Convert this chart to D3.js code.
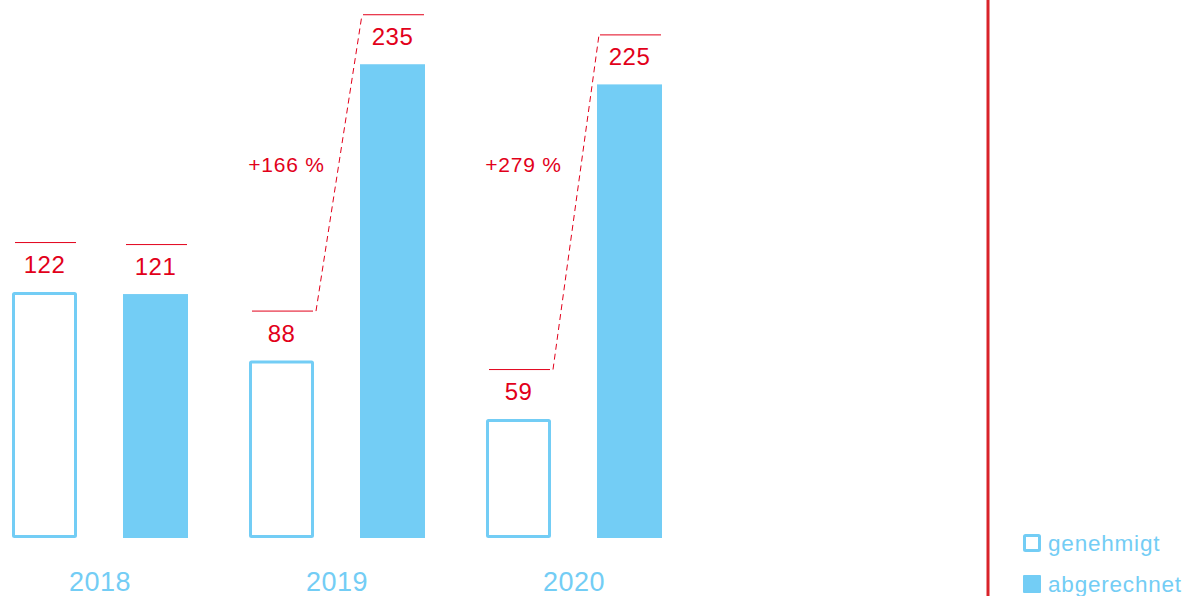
<!DOCTYPE html>
<html>
<head>
<meta charset="utf-8">
<script src="https://cdn.jsdelivr.net/npm/d3@7"></script>
<style>
  body{margin:0;background:#fff;}
  svg{display:block;font-family:"Liberation Sans",Arial,sans-serif;}
</style>
</head>
<body>
<svg id="chart" width="1189" height="596"></svg>
<script>
// daten
var years=["2018","2019","2020"];
var series=["genehmigt","abgerechnet"];
var genehmigt=[122,88,59];
var abgerechnet=[121,235,225];
var changeLabels=[null,"+166 %","+279 %"];

var blue="#73cdf5";
var red="#e2001a";

var svg=d3.select("#chart");

var x0=d3.scaleBand().domain(years).range([12,662]).paddingInner(61/237).paddingOuter(0);
var x1=d3.scaleBand().domain(series).range([0,x0.bandwidth()]).paddingInner(46/111).paddingOuter(0);
var y=d3.scaleLinear().domain([0,250]).range([538,34]);

var rows=years.map(function(yr,i){
    return {year:yr,vals:[{s:"genehmigt",v:genehmigt[i]},{s:"abgerechnet",v:abgerechnet[i]}],change:changeLabels[i]};
});

var g=svg.selectAll("g.year").data(rows).enter().append("g")
    .attr("class","year")
    .attr("transform",function(d){return "translate("+x0(d.year)+",0)";});

// balken
g.selectAll("rect").data(function(d){return d.vals;}).enter().append("rect")
    .attr("x",function(d){return d.s==="genehmigt"?x1(d.s)+1.5:x1(d.s);})
    .attr("y",function(d){return d.s==="genehmigt"?y(d.v)+1.5:y(d.v);})
    .attr("width",function(d){return d.s==="genehmigt"?x1.bandwidth()-3:x1.bandwidth();})
    .attr("height",function(d){return d.s==="genehmigt"?y(0)-y(d.v)-3:y(0)-y(d.v);})
    .attr("fill",function(d){return d.s==="genehmigt"?"#fff":blue;})
    .attr("stroke",function(d){return d.s==="genehmigt"?blue:"none";})
    .attr("stroke-width",3)
    .attr("rx",function(d){return d.s==="genehmigt"?1:0;});

// linien ueber den balken
g.selectAll("line.lab").data(function(d){return d.vals;}).enter().append("line")
    .attr("class","lab")
    .attr("x1",function(d){return x1(d.s)+3;})
    .attr("x2",function(d){return x1(d.s)+x1.bandwidth()-1;})
    .attr("y1",function(d){return y(d.v)-49.5;})
    .attr("y2",function(d){return y(d.v)-49.5;})
    .attr("stroke",red).attr("stroke-width",1);

// werte
g.selectAll("text.val").data(function(d){return d.vals;}).enter().append("text")
    .attr("class","val")
    .attr("x",function(d){return x1(d.s)+x1.bandwidth()/2;})
    .attr("y",function(d){return y(d.v)-19;})
    .attr("text-anchor","middle")
    .attr("font-size",24)
    .attr("letter-spacing",0.5)
    .attr("fill",red)
    .text(function(d){return d.v;});

// gestrichelte verbindung + prozent
var ch=g.filter(function(d){return d.change;});
ch.append("line")
    .attr("x1",function(d){return x1("genehmigt")+x1.bandwidth()+2;})
    .attr("y1",function(d){return y(d.vals[0].v)-49.5;})
    .attr("x2",function(d){return x1("abgerechnet")+2;})
    .attr("y2",function(d){return y(d.vals[1].v)-49.5;})
    .attr("stroke",red).attr("stroke-width",1)
    .attr("stroke-dasharray","6,4");
ch.append("text")
    .attr("x",function(d){return x1("genehmigt")+x1.bandwidth()/2+5;})
    .attr("y",172)
    .attr("text-anchor","middle")
    .attr("font-size",21)
    .attr("letter-spacing",0.8)
    .attr("fill",red)
    .text(function(d){return d.change;});

// jahre
svg.selectAll("text.yr").data(years).enter().append("text")
    .attr("class","yr")
    .attr("x",function(d){return x0(d)+x0.bandwidth()/2;})
    .attr("y",591)
    .attr("text-anchor","middle")
    .attr("font-size",27)
    .attr("letter-spacing",0.5)
    .attr("fill",blue)
    .text(function(d){return d;});

// rote trennlinie
svg.append("line")
    .attr("x1",988).attr("x2",988).attr("y1",0).attr("y2",596)
    .attr("stroke","#d9232a").attr("stroke-width",3);

// legende
var leg=svg.selectAll("g.leg").data(series).enter().append("g")
    .attr("class","leg")
    .attr("transform",function(d,i){return "translate(1023,"+(534+i*41)+")";});
leg.append("rect")
    .attr("x",function(d,i){return i===0?1.5:0;})
    .attr("y",function(d,i){return i===0?1.5:0;})
    .attr("width",function(d,i){return i===0?15:18;})
    .attr("height",function(d,i){return i===0?15:18;})
    .attr("fill",function(d,i){return i===0?"#fff":blue;})
    .attr("stroke",function(d,i){return i===0?blue:"none";})
    .attr("stroke-width",3)
    .attr("rx",1);
leg.append("text")
    .attr("x",25)
    .attr("y",17)
    .attr("font-size",22.5)
    .attr("letter-spacing",0.8)
    .attr("fill",blue)
    .text(function(d){return d;});
</script>
</body>
</html>
